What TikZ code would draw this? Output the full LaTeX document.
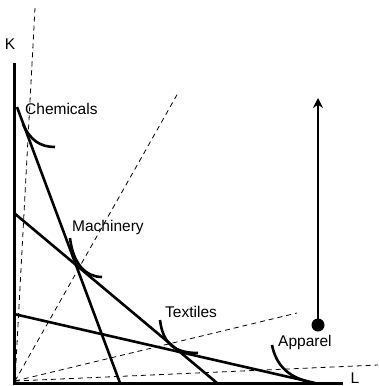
\documentclass[tikz,border=0pt]{standalone}
\usepackage{fontspec}
\setmainfont{Liberation Sans}
\usetikzlibrary{arrows.meta}
\begin{document}
\begin{tikzpicture}[x=1pt,y=-1pt,
  axisline/.style={line width=3pt},
  costline/.style={line width=2.6pt},
  isoq/.style={line width=2.6pt},
  ray/.style={dashed,line width=0.8pt,dash pattern=on 5pt off 4pt},
  lbl/.style={font=\fontsize{15.5}{17}\selectfont,inner sep=0pt}]
\useasboundingbox (0,0) rectangle (378,386);
% axes
\coordinate (O) at (14,383);
\coordinate (Ktop) at (14,63);
\coordinate (Lend) at (343,383);
\draw[axisline] (Ktop) -- (O) -- (Lend);
\node[lbl] (K) at (10,44) {K};
\node[lbl,anchor=base] (L) at (355,383) {L};
% rays
\coordinate (R0) at (15,381);
\coordinate (R1) at (35,8);
\coordinate (R2) at (178,93);
\coordinate (R3) at (297,313);
\coordinate (R4) at (378,365);
\draw[ray] (R0) -- (R1);
\draw[ray] (R0) -- (R2);
\draw[ray] (R0) -- (R3);
\draw[ray] (R0) -- (R4);
% isocost lines
\coordinate (C1) at (17,107);
\coordinate (C2) at (120,383);
\coordinate (M1) at (14,213);
\coordinate (M2) at (217,383);
\coordinate (T1) at (14,314);
\coordinate (T2) at (315,383);
\draw[costline] (C1) -- (C2);
\draw[costline] (M1) -- (M2);
\draw[costline] (T1) -- (T2);
% isoquants
\draw[isoq] (23,124) .. controls (30,140) and (40,147) .. (55,147);
\draw[isoq] (70,238) .. controls (73,264) and (86,277) .. (102,277);
\draw[isoq] (160,320) .. controls (163,345) and (176,353) .. (198,353);
\draw[isoq] (272,345) .. controls (276,365) and (288,376) .. (306,381);
% labels
\node[lbl,anchor=west] (chem) at (25,109) {Chemicals};
\node[lbl,anchor=west] (mach) at (72,227) {Machinery};
\node[lbl,anchor=west] (text) at (165,312) {Textiles};
\node[lbl,anchor=west] (app) at (278,342) {Apparel};
% arrow
\node[circle,fill=black,minimum size=13pt,inner sep=0pt] (dot) at (318,325) {};
\coordinate (atip) at (318,98);
\draw[line width=1.2pt,-{Stealth[length=10pt,width=10pt]}] (dot.center) -- (atip);
\end{tikzpicture}
\end{document}
